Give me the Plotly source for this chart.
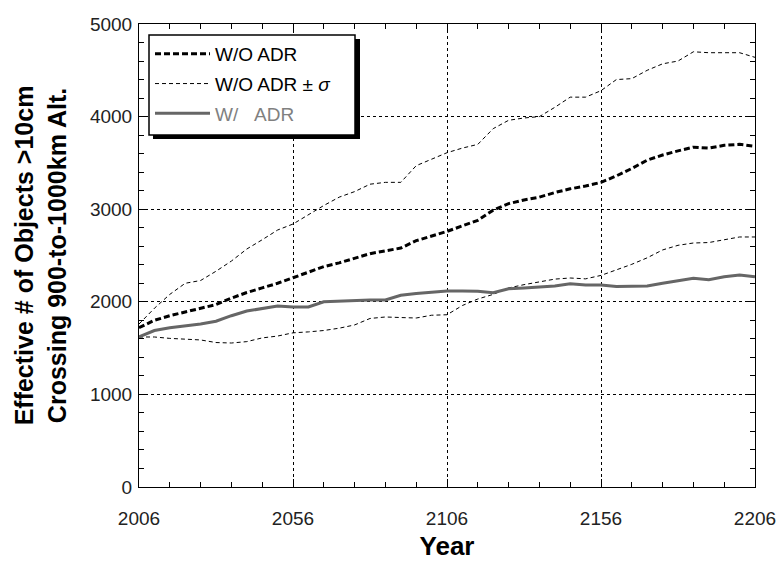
import plotly.graph_objects as go

years = list(range(2006, 2207, 5))

wo_adr = [1720, 1800, 1850, 1890, 1930, 1970, 2040, 2100, 2150, 2200,
          2260, 2320, 2380, 2420, 2470, 2520, 2550, 2580, 2660, 2710,
          2760, 2820, 2880, 2990, 3060, 3100, 3130, 3180, 3220, 3250,
          3290, 3360, 3440, 3530, 3585, 3630, 3670, 3660, 3690, 3700, 3680]

wo_adr_plus = [1760, 1930, 2080, 2200, 2230, 2330, 2440, 2570, 2670, 2775,
               2840, 2940, 3040, 3130, 3190, 3270, 3290, 3290, 3470, 3540,
               3610, 3660, 3700, 3870, 3960, 3985, 4000, 4100, 4210, 4210,
               4280, 4400, 4410, 4500, 4570, 4600, 4700, 4690, 4690, 4690, 4640]

wo_adr_minus = [1620, 1620, 1605, 1595, 1588, 1560, 1555, 1570, 1610, 1630,
                1665, 1675, 1690, 1715, 1750, 1820, 1836, 1830, 1825, 1855,
                1860, 1960, 2030, 2080, 2150, 2185, 2215, 2245, 2257, 2248,
                2285, 2343, 2405, 2475, 2560, 2610, 2635, 2640, 2670, 2700, 2700]

w_adr = [1620, 1690, 1720, 1740, 1760, 1790, 1850, 1900, 1930, 1955,
         1945, 1945, 2000, 2008, 2015, 2020, 2020, 2070, 2090, 2105,
         2117, 2117, 2115, 2098, 2140, 2150, 2160, 2170, 2195, 2182,
         2181, 2165, 2168, 2170, 2200, 2230, 2255, 2238, 2270, 2290, 2270]

x_ticks = [2006, 2056, 2106, 2156, 2206]
y_ticks = [0, 1000, 2000, 3000, 4000, 5000]

fig = go.Figure()
fig.add_trace(go.Scatter(x=years, y=wo_adr, mode="lines", name="W/O ADR",
                         legendgroup="a",
                         line=dict(color="black", width=3, dash="6px,3px")))
fig.add_trace(go.Scatter(x=years, y=wo_adr_plus, mode="lines",
                         name="W/O ADR ± <i>σ</i>", legendgroup="b",
                         line=dict(color="black", width=1, dash="4px,3px")))
fig.add_trace(go.Scatter(x=years, y=wo_adr_minus, mode="lines", showlegend=False,
                         legendgroup="b",
                         line=dict(color="black", width=1, dash="4px,3px")))
fig.add_trace(go.Scatter(x=years, y=w_adr, mode="lines",
                         name="<span style='color:#808080'>W/\u00a0\u00a0\u00a0ADR</span>",
                         legendgroup="c",
                         line=dict(color="#666666", width=3)))

axis_common = dict(
    showline=True, linecolor="black", linewidth=1, mirror="ticks",
    ticks="inside", ticklen=8, tickcolor="black",
    showgrid=True, gridcolor="black", gridwidth=1, griddash="dot",
    zeroline=False, automargin=False,
    tickfont=dict(family="Arial", size=19, color="#222222"),
)

fig.update_xaxes(range=[2006, 2206], tickvals=x_ticks, ticklabelstandoff=14,
                 minor=dict(dtick=10, tick0=2006, ticks="inside", ticklen=5,
                            tickcolor="black", showgrid=False),
                 title=dict(text="<b>Year</b>", font=dict(family="Arial", size=26, color="black"),
                            standoff=12),
                 **axis_common)
fig.update_yaxes(range=[0, 5000], tickvals=y_ticks, ticklabelstandoff=2,
                 minor=dict(dtick=200, ticks="inside", ticklen=5,
                            tickcolor="black", showgrid=False),
                 title=dict(text="<b>Effective # of Objects >10cm<br>Crossing 900-to-1000km Alt.</b>",
                            font=dict(family="Arial", size=25, color="black"), standoff=16),
                 **axis_common)

def px_x(p):
    return (p - 139) / 616

def px_y(p):
    return (487 - p) / 463

# legend frame with drop shadow
fig.add_shape(type="rect", xref="paper", yref="paper",
              x0=px_x(153), x1=px_x(360), y0=px_y(139), y1=px_y(39),
              fillcolor="black", line=dict(width=0), layer="above")
fig.add_shape(type="rect", xref="paper", yref="paper",
              x0=px_x(149), x1=px_x(355), y0=px_y(135), y1=px_y(35),
              fillcolor="white", line=dict(color="black", width=1.5), layer="above")

fig.update_layout(
    width=781, height=561,
    margin=dict(l=139, r=26, t=24, b=74),
    paper_bgcolor="white", plot_bgcolor="white",
    font=dict(family="Arial", size=19, color="black"),
    showlegend=True,
    legend=dict(x=px_x(150), y=px_y(35), xanchor="left", yanchor="top",
                bgcolor="rgba(0,0,0,0)", borderwidth=0,
                tracegroupgap=2, itemwidth=55,
                font=dict(family="Arial", size=19, color="black")),
)

fig.write_html("out.html")
